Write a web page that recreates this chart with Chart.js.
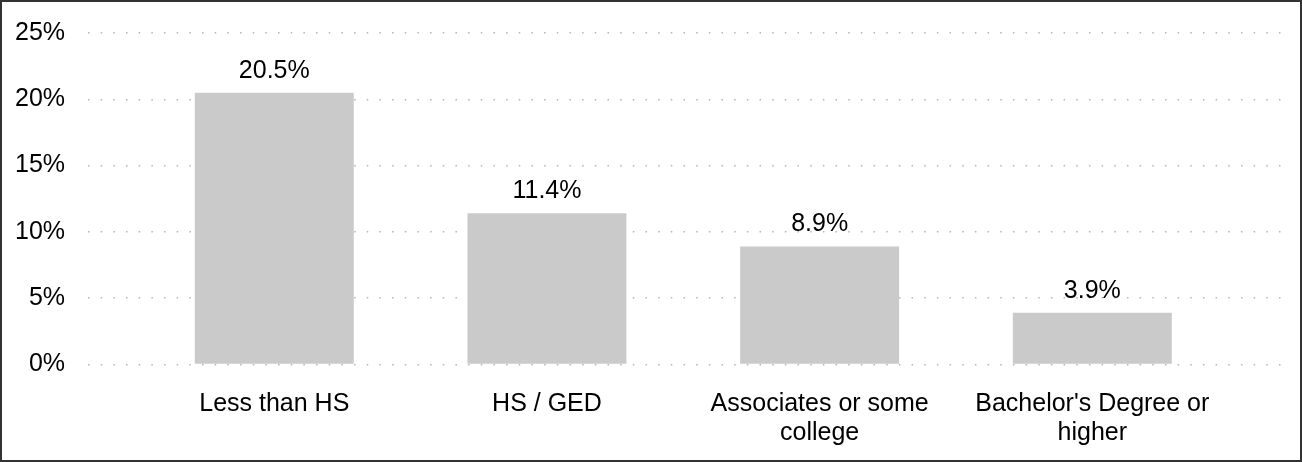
<!DOCTYPE html>
<html>
<head>
<meta charset="utf-8">
<script src="https://cdn.jsdelivr.net/npm/chart.js@4"></script>
<style>
  html, body { margin: 0; padding: 0; background: #fff; }
  #wrap {
    width: 1302px; height: 462px; box-sizing: border-box;
    border: 2px solid #333; position: relative;
  }
  #wrap canvas { display: block; }
</style>
</head>
<body>
<div id="wrap"><canvas id="eduChart" width="1298" height="458"></canvas></div>
<script>
// categories, wrapped the way the picture shows them
const categories = [
  "Less than HS",
  "HS / GED",
  ["Associates or some", "college"],
  ["Bachelor's Degree or", "higher"]
];
const rates = [20.5, 11.4, 8.9, 3.9];
const yTicks = [0, 5, 10, 15, 20, 25];

const FONT = "'Liberation Sans', Arial, sans-serif";

// draws "20.5%" etc. over each bar
const valueLabels = {
  id: "valueLabels",
  afterDatasetsDraw(chart) {
    const ctx = chart.ctx;
    const meta = chart.getDatasetMeta(0);
    ctx.save();
    ctx.font = "25px " + FONT;
    ctx.fillStyle = "#000";
    ctx.textAlign = "center";
    ctx.textBaseline = "alphabetic";
    meta.data.forEach((bar, i) => {
      ctx.fillText(rates[i].toFixed(1) + "%", bar.x, bar.y - 15);
    });
    ctx.restore();
  }
};

new Chart(document.getElementById("eduChart"), {
  type: "bar",
  data: {
    datasets: [{
      data: rates.map((v, i) => ({ x: i, y: v })),
      backgroundColor: "#cacaca",
      borderWidth: 0,
      barPercentage: 0.583,
      categoryPercentage: 1
    }]
  },
  options: {
    responsive: false,
    animation: false,
    layout: { padding: { top: 5, right: 10, bottom: -12, left: -10 } },
    plugins: {
      legend: { display: false },
      tooltip: { enabled: false }
    },
    scales: {
      x: {
        type: "linear",
        offset: false,
        min: -0.683,
        max: 3.725,
        afterBuildTicks: (scale) => { scale.ticks = categories.map((c, i) => ({ value: i })); },
        grid: { display: false, drawTicks: false },
        border: { display: false },
        ticks: {
          callback: (v) => categories[v],
          color: "#000",
          padding: 25,
          maxRotation: 0,
          autoSkip: false,
          font: { family: FONT, size: 25, lineHeight: 1.15 }
        }
      },
      y: {
        min: 0,
        max: 25,
        afterBuildTicks: (scale) => { scale.ticks = yTicks.map(v => ({ value: v })); },
        grid: { color: "#b5b5b5", lineWidth: 1.5, drawTicks: false },
        border: { display: false, dash: [1.5, 11.17] },
        ticks: {
          callback: (v) => v + "%",
          color: "#000",
          padding: 23,
          // short line box so the top tick label does not push the plot down
          font: { family: FONT, size: 25, lineHeight: 0.64 }
        }
      }
    }
  },
  plugins: [valueLabels]
});
</script>
</body>
</html>
